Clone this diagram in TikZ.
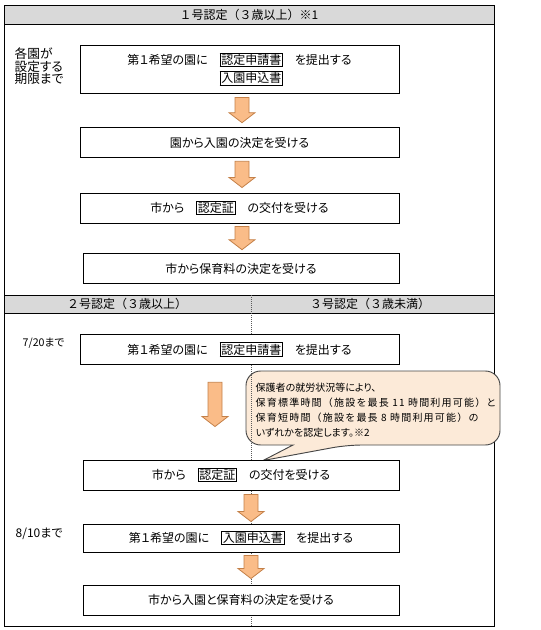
\documentclass[tikz,border=0pt]{standalone}
\usepackage{fontspec}
\setmainfont{Noto Sans CJK JP}[RawFeature=+palt]
\newfontfamily\fullwidth{Noto Sans CJK JP}
\usepackage{tikz}
\usetikzlibrary{calc,backgrounds}
\definecolor{hdrgray}{RGB}{217,217,217}
\definecolor{arrfill}{RGB}{250,188,136}
\definecolor{arrline}{RGB}{196,128,72}
\definecolor{notefill}{RGB}{252,234,216}
\definecolor{noteline}{RGB}{70,70,70}
\definecolor{sepgray}{RGB}{90,90,90}

\newcommand{\kw}[1]{{\setlength{\fboxsep}{0.6pt}\setlength{\fboxrule}{0.6pt}\fbox{#1}}}
% block arrow: #1 top point, #2 tip point
\newcommand{\blockarrow}[2]{%
  \coordinate (bat) at (#1);
  \coordinate (bab) at (#2);
  \draw[blockarr] ($(bat)+(-7,0)$) -- ($(bat|-bab)+(-7,-10)$)
    -- ($(bat|-bab)+(-13,-10)$) -- (bat|-bab) -- ($(bat|-bab)+(13,-10)$)
    -- ($(bat|-bab)+(7,-10)$) -- ($(bat)+(7,0)$) -- cycle;}

\begin{document}
\begin{tikzpicture}[x=0.75pt,y=-0.75pt,
  stepbox/.style={draw,line width=0.7pt,fill=white,inner sep=0pt,minimum height=23pt,
    font=\fontsize{9}{11}\selectfont,align=center},
  wide/.style={minimum width=239.25pt},
  narrow/.style={minimum width=237pt},
  hdrtext/.style={font=\fullwidth\fontsize{9}{11}\selectfont},
  datelabel/.style={anchor=west,font=\fontsize{8}{9}\selectfont},
  blockarr/.style={draw=arrline,fill=arrfill,line width=0.6pt},
  notebox/.style={draw=noteline,fill=notefill,line width=0.7pt},
  notetext/.style={anchor=west,align=left,font=\fontsize{7.5}{11.25}\selectfont}]

  \useasboundingbox (0,0) rectangle (540,630);

  % 1号認定
  \node[hdrtext] (hdr1) at (249,14.5) {１号認定（３歳以上）※1};
  \node[anchor=north west,align=left,font=\fontsize{9.5}{9.5}\selectfont] (due1) at (10,43)
    {各園が\\設定する\\期限まで};
  \node[stepbox,wide,minimum height=36pt] (box1) at (239.5,69)
    {第１希望の園に　\kw{認定申請書}　を提出する\\[3pt]
     \phantom{第１希望の園に　}\kw{入園申込書}\phantom{　を提出する}};
  \node[stepbox,wide] (box2) at (239.5,142.5) {園から入園の決定を受ける};
  \node[stepbox,wide,minimum height=22.5pt] (box3) at (239.5,208) {市から　\kw{認定証}　の交付を受ける};
  \node[stepbox,narrow] (box4) at (241,268.5) {市から保育料の決定を受ける};

  % 2号・3号認定
  \node[hdrtext] (hdr2) at (127,304) {２号認定（３歳以上）};
  \node[hdrtext] (hdr3) at (370,304) {３号認定（３歳未満）};
  \node[datelabel] (due2) at (18,343) {7/20まで};
  \node[datelabel,font=\fontsize{9}{10}\selectfont] (due3) at (11,534) {8/10まで};
  \node[stepbox,wide] (box5) at (239.5,349.5) {第１希望の園に　\kw{認定申請書}　を提出する};
  \node[stepbox,narrow,minimum height=22.5pt] (box6) at (241,475) {市から　\kw{認定証}　の交付を受ける};
  \node[stepbox,narrow,minimum height=21pt] (box7) at (241,538) {第１希望の園に　\kw{入園申込書}　を提出する};
  \node[stepbox,narrow,minimum height=22.5pt] (box8) at (241,600) {市から入園と保育料の決定を受ける};

  % arrows
  \blockarrow{$(box1.south)+(2.5,4)$}{$(box2.north)+(2.5,-4)$}
  \blockarrow{$(box2.south)+(2.5,3)$}{$(box3.north)+(2.5,-5)$}
  \blockarrow{$(box3.south)+(2.5,3)$}{$(box4.north)+(1,-3)$}
  \blockarrow{$(box5.south)+(-24.5,17)$}{$(box6.north)+(-26,-33)$}
  \blockarrow{$(box6.south)+(10,4)$}{$(box7.north)+(10,-2)$}
  \blockarrow{$(box7.south)+(10,3)$}{$(box8.north)+(10,-6)$}

  % frame, header bands, callout
  \begin{scope}[on background layer]
    \fill[hdrgray] (4,5) rectangle (494,24);
    \fill[hdrgray] (4,295) rectangle (494,313);
    \draw[line width=0.7pt] (4,5) rectangle (494,626);
    \draw[line width=0.7pt] (4,24) -- (494,24);
    \draw[line width=0.7pt] (4,295) -- (494,295);
    \draw[line width=0.7pt] (4,313) -- (494,313);
    \coordinate (notetip) at ($(box6.north)+(22,1)$);
    \draw[notebox] (246,408) [rounded corners=11pt] -- (246,371) -- (500,371) -- (500,445)
      -- (347,445) [sharp corners] -- (notetip) -- (293,445) [rounded corners=11pt]
      -- (246,445) -- cycle;
    \draw[sepgray,densely dotted,line width=0.5pt] (251,295) -- (251,626);
  \end{scope}

  \node[notetext] (note) at (251,410)
    {保護者の就労状況等により、\\
     {\fullwidth\addfontfeature{LetterSpace=12}保育標準時間（施設を最長 11 時間利用可能）と}\\
     {\fullwidth\addfontfeature{LetterSpace=12}保育短時間（施設を最長 8 時間利用可能）の}\\
     いずれかを認定します。※2};
\end{tikzpicture}
\end{document}
